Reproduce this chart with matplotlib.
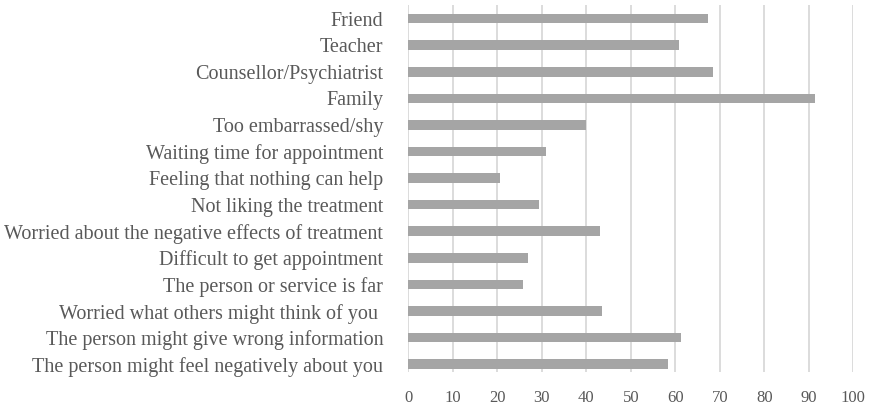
import matplotlib
matplotlib.use("Agg")
import matplotlib.pyplot as plt

categories = [
    "Friend",
    "Teacher",
    "Counsellor/Psychiatrist",
    "Family",
    "Too embarrassed/shy",
    "Waiting time for appointment",
    "Feeling that nothing can help",
    "Not liking the treatment",
    "Worried about the negative effects of treatment",
    "Difficult to get appointment",
    "The person or service is far",
    "Worried what others might think of you ",
    "The person might give wrong information",
    "The person might feel negatively about you",
]
values = [67.3, 60.9, 68.5, 91.3, 39.9, 30.9, 20.7, 29.3, 43.1, 26.8, 25.7, 43.5, 61.3, 58.4]
xticks = list(range(0, 101, 10))

plt.rcParams['font.family'] = ['Liberation Serif', 'DejaVu Serif']

fig = plt.figure(figsize=(8.7, 4.09), dpi=100)
ax = fig.add_axes([0.4693, 0.0912, 0.5116, 0.8973])

n = len(categories)
ypos = [n - 1 - i for i in range(n)]
ax.barh(ypos, values, height=0.36, color='#a5a5a5', zorder=3)

ax.set_xlim(0, 100)
ax.set_ylim(-0.28, 13.52)
ax.set_xticks(xticks)
ax.set_xticklabels([str(t) for t in xticks])
ax.set_yticks(ypos)
ax.set_yticklabels(categories)

ax.grid(axis='x', color='#d9d9d9', linewidth=1.3, zorder=0)
for s in ax.spines.values():
    s.set_visible(False)
ax.tick_params(axis='both', length=0, colors='#595959')
ax.tick_params(axis='y', labelsize=14.5, pad=18)
ax.tick_params(axis='x', labelsize=12, pad=13)

fig.savefig("out.png", dpi=100)
